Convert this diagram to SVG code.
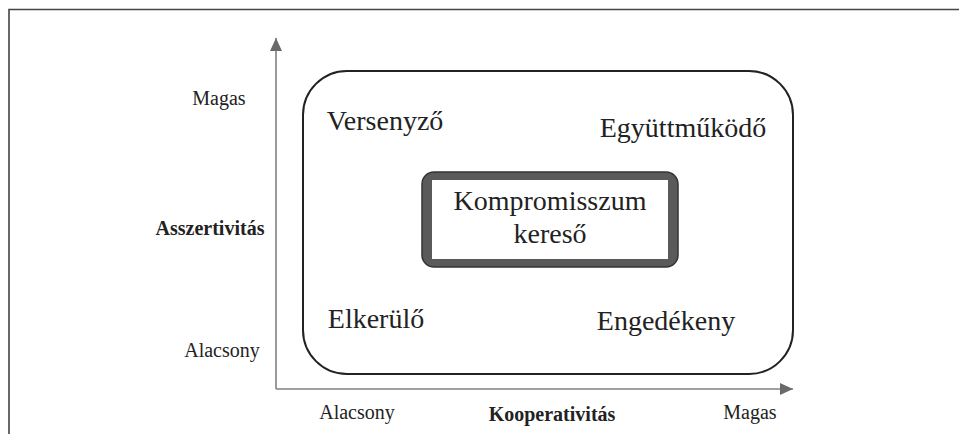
<svg xmlns="http://www.w3.org/2000/svg" width="959" height="434" viewBox="0 0 959 434">
<style>
.t{font-family:"Liberation Serif","Times New Roman",serif;fill:#222;}
.big{font-size:28px;}
.sm{font-size:20px;}
.b{font-weight:bold;}
.axis{stroke:#808080;stroke-width:1.6;fill:none;}
</style>
<defs>
<marker id="ah" markerWidth="14" markerHeight="12" refX="13" refY="6" orient="auto" markerUnits="userSpaceOnUse">
<path d="M0,0 L13,6 L0,12 Z" fill="#6a6a6a"/>
</marker>
</defs>
<rect width="959" height="434" fill="#fff"/>
<g id="frame">
<path d="M9,434 V9.5 H959" fill="none" stroke="#444" stroke-width="1.6"/>
</g>
<g id="connectors">
<line class="axis" x1="276" y1="389" x2="276" y2="38" marker-end="url(#ah)"/>
<line class="axis" x1="276" y1="389" x2="793" y2="389" marker-end="url(#ah)"/>
</g>
<g id="region">
<rect x="303" y="71" width="490" height="303" rx="44" ry="44" fill="none" stroke="#222" stroke-width="2"/>
</g>
<g id="versenyzo"><text class="t big" x="385" y="130" text-anchor="middle">Versenyző</text></g>
<g id="egyuttmukodo"><text class="t big" x="683" y="137" text-anchor="middle">Együttműködő</text></g>
<g id="elkerulo"><text class="t big" x="376" y="328" text-anchor="middle">Elkerülő</text></g>
<g id="engedekeny"><text class="t big" x="666" y="330" text-anchor="middle">Engedékeny</text></g>
<g id="kompromisszum">
<rect x="422" y="172" width="256" height="95" rx="12" ry="12" fill="#5a5a5a" stroke="#333" stroke-width="1.5"/>
<rect x="432" y="180" width="236" height="79" fill="#fff"/>
<text class="t big" x="550" y="210" text-anchor="middle">Kompromisszum</text>
<text class="t big" x="550" y="243" text-anchor="middle">kereső</text>
</g>
<g id="labels">
<text class="t sm" x="219" y="105" text-anchor="middle">Magas</text>
<text class="t sm b" x="210" y="235" text-anchor="middle">Asszertivitás</text>
<text class="t sm" x="222" y="357" text-anchor="middle">Alacsony</text>
<text class="t sm" x="357" y="419" text-anchor="middle">Alacsony</text>
<text class="t sm b" x="552" y="421" text-anchor="middle">Kooperativitás</text>
<text class="t sm" x="750" y="419" text-anchor="middle">Magas</text>
</g>
</svg>
